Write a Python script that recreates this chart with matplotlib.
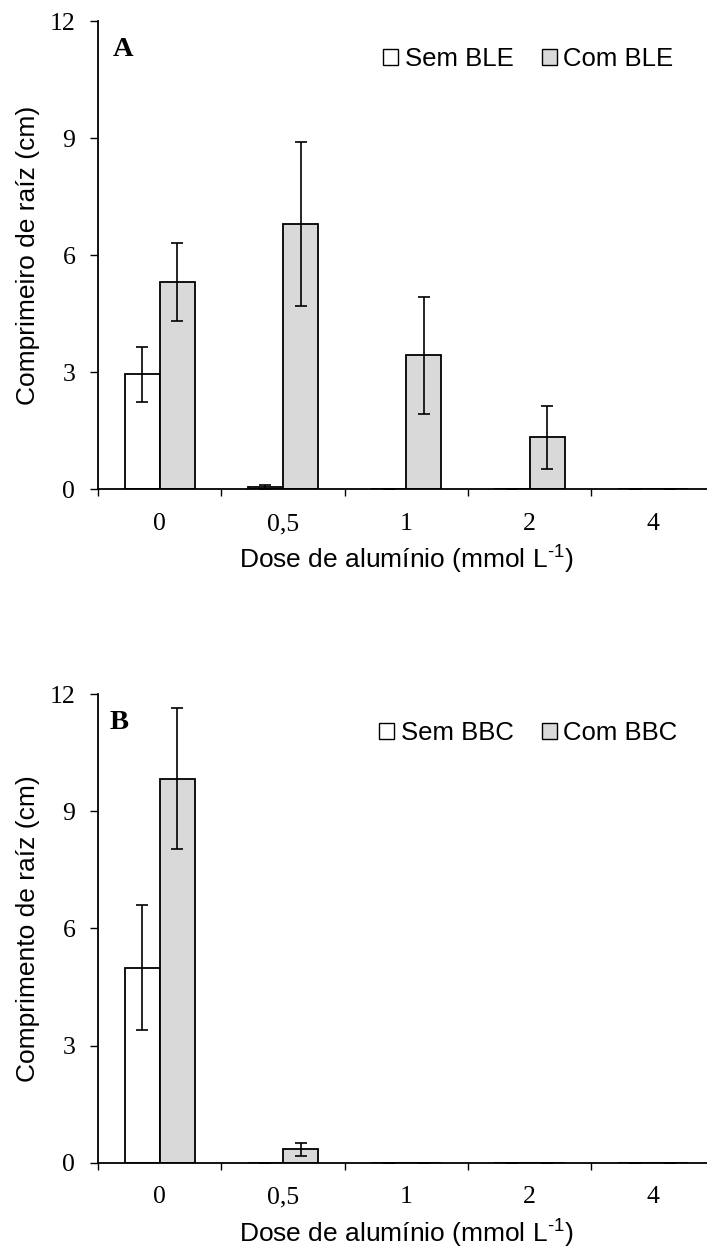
import matplotlib
matplotlib.use("Agg")
import matplotlib.pyplot as plt
import numpy as np

plt.rcParams['font.family'] = ['Liberation Sans', 'DejaVu Sans']
plt.rcParams['mathtext.fontset'] = 'custom'
plt.rcParams['mathtext.rm'] = 'Liberation Sans'
plt.rcParams['mathtext.default'] = 'regular'

categories = ["0", "0,5", "1", "2", "4"]

# Panel A
a_sem = [2.95, 0.07, 0.0, 0.0, 0.0]
a_sem_err = [0.70, 0.05, 0.0, 0.0, 0.0]
a_com = [5.32, 6.79, 3.44, 1.33, 0.0]
a_com_err = [1.00, 2.10, 1.50, 0.80, 0.0]

# Panel B
b_sem = [5.00, 0.0, 0.0, 0.0, 0.0]
b_sem_err = [1.60, 0.0, 0.0, 0.0, 0.0]
b_com = [9.84, 0.34, 0.0, 0.0, 0.0]
b_com_err = [1.80, 0.16, 0.0, 0.0, 0.0]

yticks = [0, 3, 6, 9, 12]

W, H = 707, 1250
fig = plt.figure(figsize=(W / 100, H / 100), dpi=100)

serif = ['Liberation Serif', 'DejaVu Serif']
gray = '#d9d9d9'
bw = 0.285
unit = 123.3
left_px = 98
right_px = left_px + 5 * unit
axh_px = 468.4


def panel(top_px, sem, sem_err, com, com_err, letter, labels, ylabel):
    bot_px = top_px + axh_px
    rect = [left_px / W, (H - bot_px) / H, (right_px - left_px) / W, axh_px / H]
    ax = fig.add_axes(rect)
    x = np.arange(len(categories))
    ax.bar(x - bw / 2, sem, bw, color='white', edgecolor='black', linewidth=1.3,
           label=labels[0], zorder=2)
    ax.bar(x + bw / 2, com, bw, color=gray, edgecolor='black', linewidth=1.3,
           label=labels[1], zorder=2)
    ax.errorbar(x - bw / 2, sem, yerr=sem_err, fmt='none', ecolor='black',
                elinewidth=1.2, capsize=4.3, capthick=1.2, zorder=3, clip_on=False)
    ax.errorbar(x + bw / 2, com, yerr=com_err, fmt='none', ecolor='black',
                elinewidth=1.2, capsize=4.3, capthick=1.2, zorder=3, clip_on=False)
    ax.set_xlim(-0.5, len(categories) - 0.5)
    ax.set_ylim(0, 12)
    ax.set_yticks(yticks)
    ax.set_yticklabels([str(t) for t in yticks], fontfamily=serif, fontsize=18.5)
    ax.tick_params(axis='y', direction='out', length=5.8, width=1.0, pad=10.5)
    # boundary ticks (major) and centred category labels (minor)
    ax.set_xticks(np.arange(len(categories) + 1) - 0.5)
    ax.set_xticklabels([])
    ax.tick_params(axis='x', which='major', direction='out', length=5.3, width=1.0)
    ax.set_xticks(x, minor=True)
    ax.set_xticklabels(categories, minor=True, fontfamily=serif, fontsize=18.5)
    ax.tick_params(axis='x', which='minor', length=0, pad=17)
    for s in ['top', 'right']:
        ax.spines[s].set_visible(False)
    for s in ['left', 'bottom']:
        ax.spines[s].set_linewidth(1.3)
    ax.set_xlabel('Dose de alumínio (mmol L$^{\\text{-1}}$)', fontsize=19)
    ax.xaxis.label.set_va('center')
    ax.xaxis.set_label_coords(0.5, -(560 - 489) / axh_px)
    ax.set_ylabel(ylabel, fontsize=19)
    ax.yaxis.label.set_va('center')
    ax.yaxis.set_label_coords(-(left_px - 28.3) / (right_px - left_px), 0.5)
    ax.text(letter[1], 0.926, letter[0], transform=ax.transAxes, fontfamily=serif,
            fontweight='bold', fontsize=20.5, va='baseline', ha='left')
    leg = ax.legend(loc='center', bbox_to_anchor=(0.698, 0.918), ncol=2,
                    frameon=False, fontsize=18.5, handlelength=0.58,
                    handleheight=0.58, handletextpad=0.25, columnspacing=1.1,
                    borderpad=0)
    for p in leg.get_patches():
        p.set_linewidth(1.0)
    return ax


axA = panel(21, a_sem, a_sem_err, a_com, a_com_err, ('A', 0.024),
            ('Sem BLE', 'Com BLE'), 'Comprimeiro de raíz (cm)')
axB = panel(694.3, b_sem, b_sem_err, b_com, b_com_err, ('B', 0.0195),
            ('Sem BBC', 'Com BBC'), 'Comprimento de raíz (cm)')

fig.savefig('out.png', dpi=100)
